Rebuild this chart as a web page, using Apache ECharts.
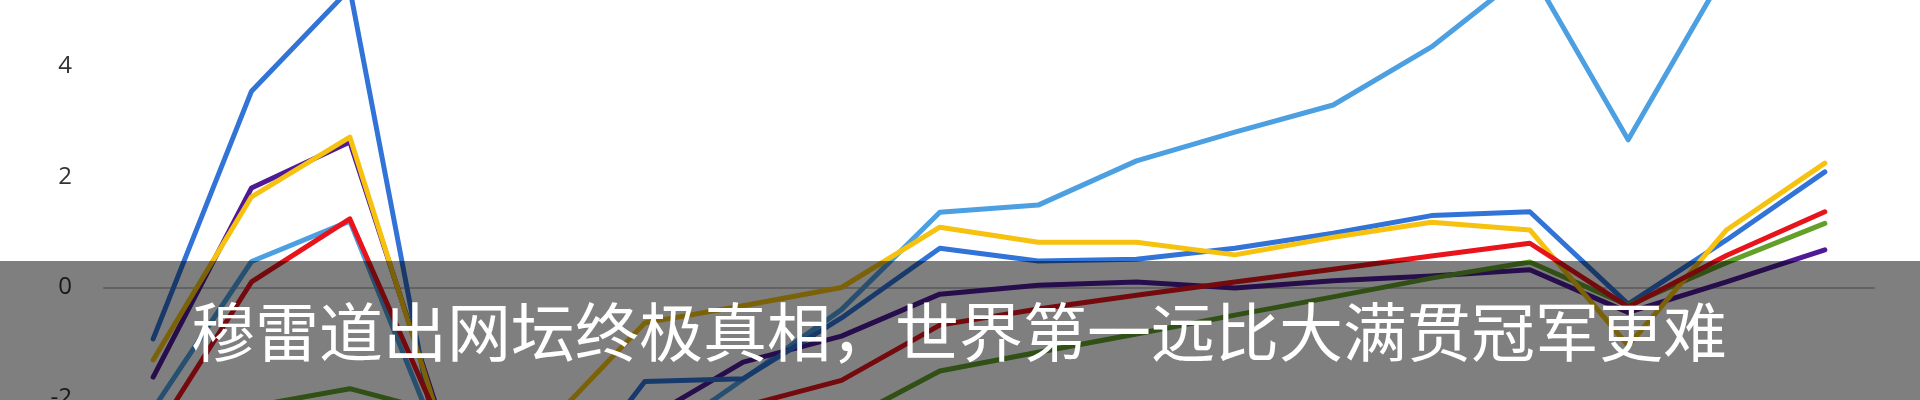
<!DOCTYPE html>
<html>
<head>
<meta charset="utf-8">
<script src="https://cdn.jsdelivr.net/npm/echarts@6/dist/echarts.min.js"></script>
<style>
html,body{margin:0;padding:0;background:#fff;width:1920px;height:400px;overflow:hidden;position:relative;}
#chart{position:absolute;left:0;top:-200px;width:1920px;height:900px;}
</style>
</head>
<body>
<div id="chart"></div>
<script>
const categories = ['1','2','3','4','5','6','7','8','9','10','11','12','13','14','15','16','17','18'];
const darkBlue  = [-0.93, 3.55, 5.4, -3.9, -4.0, -1.7, -1.65, -0.55, 0.71, 0.48, 0.51, 0.71, 0.98, 1.3, 1.37, -0.3, 0.86, 2.09];
const lightBlue = [-2.2, 0.47, 1.2, -3.2, -3.5, -2.9, -1.66, -0.4, 1.36, 1.49, 2.29, 2.81, 3.3, 4.35, 5.75, 2.67, 5.75, 6.2];
const yellow    = [-1.31, 1.64, 2.72, -2.9, -2.5, -0.64, -0.33, 0.0, 1.09, 0.82, 0.82, 0.59, 0.91, 1.18, 1.04, -1.05, 1.04, 2.25];
const purple    = [-1.62, 1.8, 2.63, -2.8, -3.2, -2.4, -1.35, -0.88, -0.12, 0.04, 0.1, -0.01, 0.12, 0.21, 0.32, -0.45, 0.1, 0.68];
const red       = [-2.7, 0.1, 1.24, -2.8, -3.0, -2.6, -2.15, -1.68, -0.68, -0.39, -0.14, 0.1, 0.33, 0.57, 0.8, -0.35, 0.58, 1.37];
const green     = [-2.6, -2.15, -1.83, -2.3, -3.5, -3.4, -3.0, -2.45, -1.51, -1.17, -0.84, -0.5, -0.17, 0.17, 0.46, -0.32, 0.45, 1.16];
const yTicks = { min: -6, max: 8, interval: 2 };
const title = '穆雷道出网坛终极真相，世界第一远比大满贯冠军更难';

// the chart canvas is taller than the window and shifted up by OFFSET px
const OFFSET = 200;
const UNIT = 55.3;      // px per y unit
const ZERO_Y = 287.5;   // page y of value 0

const chart = echarts.init(document.getElementById('chart'), null, {renderer: 'canvas'});
function line(name, data, color, z) {
  return {
    name, type: 'line', data, z,
    symbol: 'none', smooth: false,
    lineStyle: { color, width: 5, cap: 'round', join: 'round' },
    silent: true
  };
}
const gridTop = OFFSET + ZERO_Y - yTicks.max * UNIT;
const gridHeight = (yTicks.max - yTicks.min) * UNIT;
chart.setOption({
  animation: false,
  backgroundColor: '#ffffff',
  grid: { left: 104, right: 46, top: gridTop, height: gridHeight },
  xAxis: {
    type: 'category', data: categories, boundaryGap: true,
    axisLine: { show: true, onZero: true, lineStyle: { color: '#c4c4c4', width: 2 } },
    axisTick: { show: false }, axisLabel: { show: false }, splitLine: { show: false }
  },
  yAxis: {
    type: 'value', min: yTicks.min, max: yTicks.max, interval: yTicks.interval,
    axisLine: { show: false }, axisTick: { show: false }, splitLine: { show: false },
    axisLabel: { color: '#333', fontSize: 24, fontFamily: 'Open Sans', margin: 32 }
  },
  series: [
    line('lightBlue', lightBlue, '#4c9fe1', 2),
    line('purple', purple, '#4f1a96', 3),
    line('darkBlue', darkBlue, '#3173d6', 4),
    line('green', green, '#62a02a', 5),
    line('yellow', yellow, '#f6c20f', 6),
    line('red', red, '#e8141c', 7)
  ],
  graphic: [
    { type: 'rect', z: 100, shape: { x: 0, y: OFFSET + 261, width: 1920, height: 139 }, style: { fill: 'rgba(0,0,0,0.5)' } },
    { type: 'text', z: 101, x: 959, y: OFFSET + 332, style: { text: title, fill: '#ffffff', fontSize: 64, fontFamily: '"Noto Sans CJK SC"', align: 'center', verticalAlign: 'middle' } }
  ]
});
</script>
</body>
</html>
